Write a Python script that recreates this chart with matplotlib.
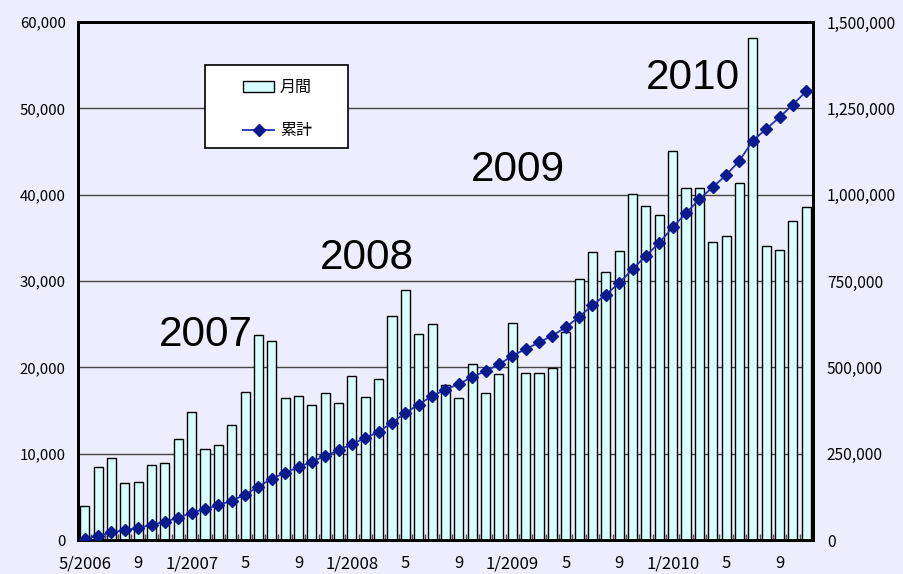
import numpy as np
import matplotlib
matplotlib.use("Agg")
import matplotlib.pyplot as plt
from matplotlib.ticker import FuncFormatter, FixedLocator
from matplotlib.patches import Rectangle

plt.rcParams['font.family'] = ['Noto Sans CJK JP', 'DejaVu Sans']

months = [
    "5/2006", "6", "7", "8", "9", "10", "11", "12",
    "1/2007", "2", "3", "4", "5", "6", "7", "8", "9", "10", "11", "12",
    "1/2008", "2", "3", "4", "5", "6", "7", "8", "9", "10", "11", "12",
    "1/2009", "2", "3", "4", "5", "6", "7", "8", "9", "10", "11", "12",
    "1/2010", "2", "3", "4", "5", "6", "7", "8", "9", "10", "11",
]
monthly = [
    3900, 8400, 9500, 6600, 6700, 8700, 8900, 11700,
    14800, 10500, 11000, 13300, 17100, 23800, 23000, 16400, 16700, 15600, 17000, 15900,
    19000, 16600, 18600, 25900, 28900, 23900, 25000, 18000, 16400, 20400, 17000, 19200,
    25100, 19300, 19300, 19900, 24100, 30200, 33400, 31000, 33500, 40100, 38700, 37600,
    45000, 40800, 40800, 34500, 35200, 41300, 58200, 34000, 33600, 36900, 38600,
]
cumulative = np.cumsum(monthly)
year_labels = ["2007", "2008", "2009", "2010"]
year_label_pos = [(9.1, 23700), (21.1, 32700), (32.4, 42800), (45.5, 53500)]
legend_labels = ["月間", "累計"]

bg = "#ECEEFD"
fig = plt.figure(figsize=(9.04, 5.74), dpi=100, facecolor=bg)
ax = fig.add_axes([0.0863, 0.0592, 0.8130, 0.9025], facecolor=bg)
ax2 = ax.twinx()

x = np.arange(len(monthly))
bars = ax.bar(x, monthly, width=0.68, color="#D7FFFF", edgecolor="black",
              linewidth=1.0, zorder=3, label=legend_labels[0])
line, = ax2.plot(x, cumulative, color="#2233AA", lw=1.3, marker="D",
                 markersize=6.5, markerfacecolor="#0A1A8F",
                 markeredgecolor="#0A1A8F", zorder=4, label=legend_labels[1])

ax.set_xlim(-0.5, len(monthly) - 0.5)
ax.set_ylim(0, 60000)
ax2.set_ylim(0, 1500000)
ax.set_yticks(np.arange(0, 60001, 10000))
ax2.set_yticks(np.arange(0, 1500001, 250000))
fmt = FuncFormatter(lambda v, p: f"{int(v):,}")
ax.yaxis.set_major_formatter(fmt)
ax2.yaxis.set_major_formatter(fmt)

ax.grid(axis="y", color="#444444", lw=1.0, zorder=0)
ax.set_axisbelow(True)

tick_idx = list(range(0, len(monthly), 4))
ax.set_xticks(tick_idx)
ax.set_xticklabels([months[i] for i in tick_idx])
ax.xaxis.set_minor_locator(FixedLocator(np.arange(-0.5, len(monthly), 1.0)))
ax.tick_params(axis="x", which="major", length=0, labelsize=12, pad=11)
ax.tick_params(axis="x", which="minor", direction="in", length=4, width=1,
               color="#555555")
ax.tick_params(axis="y", length=0, labelsize=10.8, pad=9)
ax2.tick_params(axis="y", length=0, labelsize=11.2, pad=10)

for a in (ax, ax2):
    for s in a.spines.values():
        s.set_color("black")
        s.set_linewidth(2.0)

for lab, (px, py) in zip(year_labels, year_label_pos):
    ax.text(px, py, lab, fontsize=30.5, ha="center", va="center", color="black",
            family=["Liberation Sans", "DejaVu Sans"], zorder=5)

# legend box
rect = Rectangle((205 / 904, 1 - 148 / 574), 143 / 904, 83 / 574,
                 transform=fig.transFigure, facecolor="white",
                 edgecolor="black", linewidth=1.2, zorder=9)
fig.patches.append(rect)
leg = fig.legend([bars, line], legend_labels, loc="center left",
                 bbox_to_anchor=(243 / 904, 1 - 109 / 574), frameon=False,
                 fontsize=11.5, labelspacing=1.65, borderpad=0,
                 handlelength=1.95, handletextpad=0.35, borderaxespad=0)
leg.set_zorder(10)

fig.savefig("out.png", dpi=100, facecolor=bg)
